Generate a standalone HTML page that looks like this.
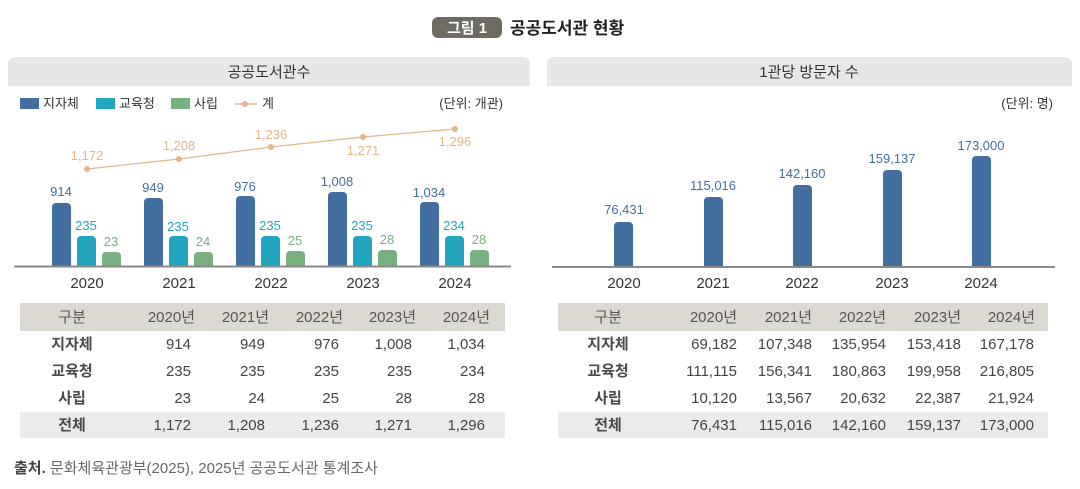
<!DOCTYPE html>
<html><head><meta charset="utf-8"><style>
body{margin:0;background:#fff;}
svg{display:block;font-family:"Liberation Sans","Noto Sans CJK KR",sans-serif;}
</style></head><body>
<svg width="1080" height="489" viewBox="0 0 1080 489" xmlns="http://www.w3.org/2000/svg">
<rect x="432" y="17" width="70" height="21" rx="6" fill="#6e6b63"/>
<text x="467" y="33" font-size="15" font-weight="bold" fill="#fff" text-anchor="middle">그림 1</text>
<text x="510" y="34" font-size="17" font-weight="bold" fill="#222">공공도서관 현황</text>
<path d="M8 86 V64 a7 7 0 0 1 7 -7 H523 a7 7 0 0 1 7 7 V86 Z" fill="#e7e7e9"/>
<text x="269" y="77" font-size="15" fill="#333" text-anchor="middle">공공도서관수</text>
<path d="M547 86 V64 a7 7 0 0 1 7 -7 H1065 a7 7 0 0 1 7 7 V86 Z" fill="#e7e7e9"/>
<text x="809" y="77" font-size="15" fill="#333" text-anchor="middle">1관당 방문자 수</text>
<g font-size="13" fill="#333">
<rect x="20" y="98" width="19" height="11" fill="#436ea0"/><text x="43" y="108">지자체</text>
<rect x="96" y="98" width="19" height="11" fill="#23a5c0"/><text x="119" y="108">교육청</text>
<rect x="171" y="98" width="19" height="11" fill="#79b07f"/><text x="194" y="108">사립</text>
<line x1="235" y1="104" x2="257" y2="104" stroke="#e3b686" stroke-width="1.5"/><circle cx="245" cy="104" r="3" fill="#e3b686"/><text x="262" y="108">계</text>
<text x="503" y="108" text-anchor="end">(단위: 개관)</text>
<text x="1053" y="108" text-anchor="end">(단위: 명)</text>
</g>
<g>
<path d="M52 266V207a4 4 0 0 1 4-4h11a4 4 0 0 1 4 4V266Z" fill="#436ea0"/>
<path d="M144 266V202a4 4 0 0 1 4-4h11a4 4 0 0 1 4 4V266Z" fill="#436ea0"/>
<path d="M236 266V200a4 4 0 0 1 4-4h11a4 4 0 0 1 4 4V266Z" fill="#436ea0"/>
<path d="M328 266V196a4 4 0 0 1 4-4h11a4 4 0 0 1 4 4V266Z" fill="#436ea0"/>
<path d="M420 266V206a4 4 0 0 1 4-4h11a4 4 0 0 1 4 4V266Z" fill="#436ea0"/>
<path d="M77 266V240a4 4 0 0 1 4-4h11a4 4 0 0 1 4 4V266Z" fill="#23a5c0"/>
<path d="M169 266V240a4 4 0 0 1 4-4h11a4 4 0 0 1 4 4V266Z" fill="#23a5c0"/>
<path d="M261 266V240a4 4 0 0 1 4-4h11a4 4 0 0 1 4 4V266Z" fill="#23a5c0"/>
<path d="M353 266V240a4 4 0 0 1 4-4h11a4 4 0 0 1 4 4V266Z" fill="#23a5c0"/>
<path d="M445 266V240a4 4 0 0 1 4-4h11a4 4 0 0 1 4 4V266Z" fill="#23a5c0"/>
<path d="M102 266V256a4 4 0 0 1 4-4h11a4 4 0 0 1 4 4V266Z" fill="#79b07f"/>
<path d="M194 266V256a4 4 0 0 1 4-4h11a4 4 0 0 1 4 4V266Z" fill="#79b07f"/>
<path d="M286 266V255a4 4 0 0 1 4-4h11a4 4 0 0 1 4 4V266Z" fill="#79b07f"/>
<path d="M378 266V254a4 4 0 0 1 4-4h11a4 4 0 0 1 4 4V266Z" fill="#79b07f"/>
<path d="M470 266V254a4 4 0 0 1 4-4h11a4 4 0 0 1 4 4V266Z" fill="#79b07f"/>
</g>
<line x1="14" y1="266.5" x2="511" y2="266.5" stroke="#888" stroke-width="2"/>
<g font-size="13" text-anchor="middle">
<g fill="#436ea0"><text x="61" y="196">914</text><text x="153" y="192">949</text><text x="245" y="191">976</text><text x="337" y="186">1,008</text><text x="429" y="197">1,034</text></g>
<g fill="#23a5c0"><text x="86" y="230">235</text><text x="178" y="231">235</text><text x="270" y="230">235</text><text x="362" y="230">235</text><text x="454" y="230">234</text></g>
<g fill="#79b07f"><text x="111" y="246">23</text><text x="203" y="246">24</text><text x="295" y="245">25</text><text x="387" y="244">28</text><text x="479" y="244">28</text></g>
<g fill="#e3b686"><text x="87" y="160">1,172</text><text x="179" y="150">1,208</text><text x="271" y="139">1,236</text><text x="363" y="155">1,271</text><text x="455" y="146">1,296</text></g>
</g>
<polyline points="87,169 179,159 271,147 363,137 455,129" fill="none" stroke="#e3b686" stroke-width="1.2"/>
<g fill="#e3b686"><circle cx="87" cy="169" r="3"/><circle cx="179" cy="159" r="3"/><circle cx="271" cy="147" r="3"/><circle cx="363" cy="137" r="3"/><circle cx="455" cy="129" r="3"/></g>
<g font-size="15" fill="#333" text-anchor="middle"><text x="87" y="288">2020</text><text x="179" y="288">2021</text><text x="271" y="288">2022</text><text x="363" y="288">2023</text><text x="455" y="288">2024</text></g>
<g fill="#436ea0">
<path d="M614 267V226a4 4 0 0 1 4-4h11a4 4 0 0 1 4 4V267Z"/>
<path d="M704 267V201a4 4 0 0 1 4-4h11a4 4 0 0 1 4 4V267Z"/>
<path d="M793 267V189a4 4 0 0 1 4-4h11a4 4 0 0 1 4 4V267Z"/>
<path d="M883 267V174a4 4 0 0 1 4-4h11a4 4 0 0 1 4 4V267Z"/>
<path d="M972 267V160a4 4 0 0 1 4-4h11a4 4 0 0 1 4 4V267Z"/>
</g>
<line x1="552" y1="267" x2="1055" y2="267" stroke="#888" stroke-width="2"/>
<g font-size="13" fill="#436ea0" text-anchor="middle"><text x="624" y="214">76,431</text><text x="713" y="190">115,016</text><text x="802" y="178">142,160</text><text x="892" y="163">159,137</text><text x="981" y="150">173,000</text></g>
<g font-size="15" fill="#333" text-anchor="middle"><text x="624" y="288">2020</text><text x="713" y="288">2021</text><text x="802" y="288">2022</text><text x="892" y="288">2023</text><text x="981" y="288">2024</text></g>
<rect x="20" y="303" width="485" height="28" fill="#dcd9d3"/>
<rect x="20" y="412" width="485" height="26" fill="#ebebed"/>
<rect x="558" y="303" width="490" height="28" fill="#dcd9d3"/>
<rect x="558" y="412" width="490" height="26" fill="#ebebed"/>
<g font-size="15" fill="#444">
<g text-anchor="middle" fill="#555"><text x="72" y="322">구분</text><text x="608" y="322">구분</text></g>
<g text-anchor="middle" font-weight="bold" fill="#4a4a4a"><text x="72" y="349">지자체</text><text x="72" y="376">교육청</text><text x="72" y="403">사립</text><text x="72" y="430">전체</text>
<text x="608" y="349">지자체</text><text x="608" y="376">교육청</text><text x="608" y="403">사립</text><text x="608" y="430">전체</text></g>
<g text-anchor="end" fill="#555"><text x="195" y="322">2020년</text><text x="269" y="322">2021년</text><text x="343" y="322">2022년</text><text x="416" y="322">2023년</text><text x="490" y="322">2024년</text>
<text x="737" y="322">2020년</text><text x="812" y="322">2021년</text><text x="886" y="322">2022년</text><text x="961" y="322">2023년</text><text x="1035" y="322">2024년</text></g>
<g text-anchor="end">
<text x="191" y="349">914</text><text x="265" y="349">949</text><text x="339" y="349">976</text><text x="412" y="349">1,008</text><text x="485" y="349">1,034</text>
<text x="191" y="376">235</text><text x="265" y="376">235</text><text x="339" y="376">235</text><text x="412" y="376">235</text><text x="485" y="376">234</text>
<text x="191" y="403">23</text><text x="265" y="403">24</text><text x="339" y="403">25</text><text x="412" y="403">28</text><text x="485" y="403">28</text>
<text x="191" y="430">1,172</text><text x="265" y="430">1,208</text><text x="339" y="430">1,236</text><text x="412" y="430">1,271</text><text x="485" y="430">1,296</text>
<text x="737" y="349">69,182</text><text x="812" y="349">107,348</text><text x="886" y="349">135,954</text><text x="961" y="349">153,418</text><text x="1034" y="349">167,178</text>
<text x="737" y="376">111,115</text><text x="812" y="376">156,341</text><text x="886" y="376">180,863</text><text x="961" y="376">199,958</text><text x="1034" y="376">216,805</text>
<text x="737" y="403">10,120</text><text x="812" y="403">13,567</text><text x="886" y="403">20,632</text><text x="961" y="403">22,387</text><text x="1034" y="403">21,924</text>
<text x="737" y="430">76,431</text><text x="812" y="430">115,016</text><text x="886" y="430">142,160</text><text x="961" y="430">159,137</text><text x="1034" y="430">173,000</text>
</g>
</g>
<text x="14" y="473" font-size="15" fill="#666"><tspan font-weight="bold" fill="#444">출처.</tspan> 문화체육관광부(2025), 2025년 공공도서관 통계조사</text>
</svg>
</body></html>
